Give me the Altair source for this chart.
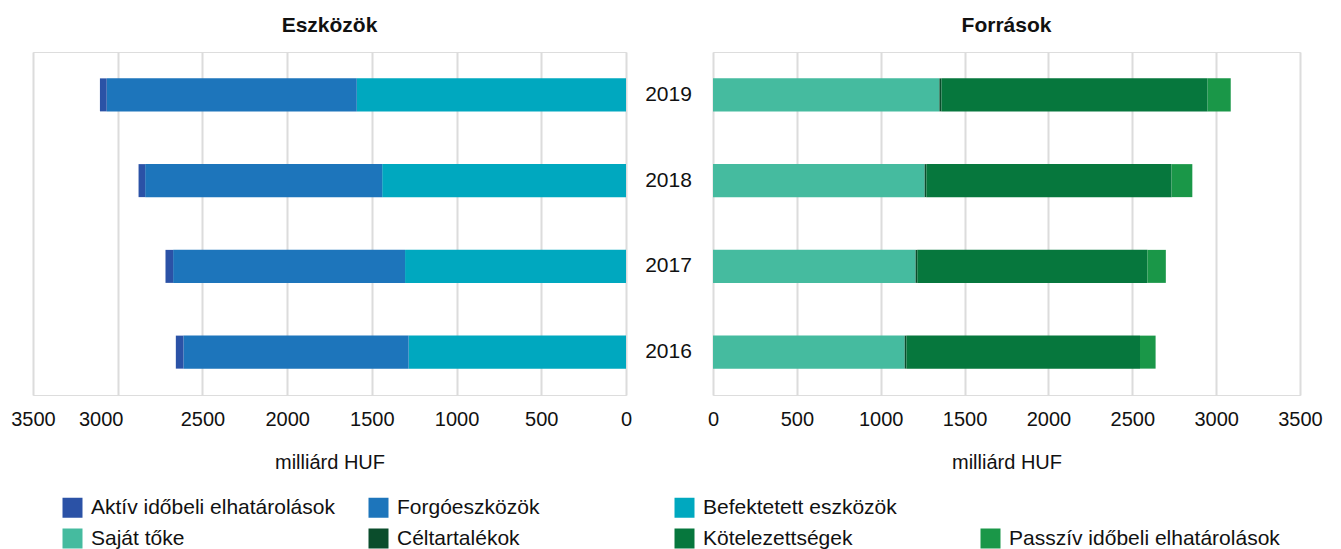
import altair as alt
import pandas as pd

years = ["2019", "2018", "2017", "2016"]

# Eszközök (milliárd HUF)
befektetett = [1589, 1439, 1304, 1283]
forgo = [1476, 1399, 1369, 1329]
aktiv = [40, 39, 45, 45]

# Források (milliárd HUF)
sajat = [1350, 1262, 1208, 1143]
celtartalek = [12, 10, 10, 10]
kotelezettseg = [1587, 1462, 1372, 1393]
passziv = [138, 124, 110, 93]

cat_names = [
    "Aktív időbeli elhatárolások", "Forgóeszközök", "Befektetett eszközök", " ",
    "Saját tőke", "Céltartalékok", "Kötelezettségek", "Passzív időbeli elhatárolások",
]
cat_colors = ["#2b52a6", "#1d75bb", "#00a8bf", "#ffffff",
              "#45bb9f", "#0b4d2c", "#06773d", "#1a9748"]

left_rows = []
for i, y in enumerate(years):
    left_rows.append({"year": y, "cat": "Befektetett eszközök", "value": befektetett[i], "ord": 0})
    left_rows.append({"year": y, "cat": "Forgóeszközök", "value": forgo[i], "ord": 1})
    left_rows.append({"year": y, "cat": "Aktív időbeli elhatárolások", "value": aktiv[i], "ord": 2})
right_rows = []
for i, y in enumerate(years):
    right_rows.append({"year": y, "cat": "Saját tőke", "value": sajat[i], "ord": 0})
    right_rows.append({"year": y, "cat": "Céltartalékok", "value": celtartalek[i], "ord": 1})
    right_rows.append({"year": y, "cat": "Kötelezettségek", "value": kotelezettseg[i], "ord": 2})
    right_rows.append({"year": y, "cat": "Passzív időbeli elhatárolások", "value": passziv[i], "ord": 3})

df_left = pd.DataFrame(left_rows)
df_right = pd.DataFrame(right_rows)

tick_vals = [0, 500, 1000, 1500, 2000, 2500, 3000, 3500]
FONT = "Liberation Sans"

color_scale = alt.Scale(domain=cat_names, range=cat_colors)
legend = alt.Legend(
    title=None, orient="none", legendX=29, legendY=445, columns=4, direction="horizontal",
    symbolType="square", symbolSize=400, symbolStrokeWidth=0,
    labelFontSize=21, labelFont=FONT, labelColor="#111111", labelLimit=400,
    gridAlign="all", columnPadding=6, rowPadding=9, labelOffset=8,
)

def x_axis(label_offset=0):
    return alt.Axis(values=tick_vals, format="d", title="milliárd HUF", grid=True, ticks=False,
                    domain=False, labelFontSize=20, labelFont=FONT, labelColor="#111111",
                    labelPadding=14, titleFontSize=20, titleFont=FONT, labelFlush=False,
                    labelOffset=label_offset,
                    titleFontWeight="normal", titleColor="#111111", titlePadding=23,
                    gridColor="#dcdcdc", gridWidth=2, labelOverlap=False)

y_scale = alt.Scale(paddingInner=0.615, paddingOuter=0.3075)

left = alt.Chart(df_left).mark_bar().encode(
    x=alt.X("value:Q", stack="zero", scale=alt.Scale(domain=[0, 3500], reverse=True, nice=False),
            axis=x_axis(alt.ExprRef("datum.value == 3000 ? -17 : 0"))),
    y=alt.Y("year:N", sort=years, scale=y_scale,
            axis=alt.Axis(orient="right", title=None, ticks=False, tickSize=0, domain=False,
                          labelAlign="center", labelPadding=42, labelFontSize=21,
                          labelFont=FONT, labelColor="#111111")),
    color=alt.Color("cat:N", scale=color_scale, legend=legend),
    order=alt.Order("ord:Q"),
).properties(width=593, height=343,
             title=alt.TitleParams("Eszközök", fontSize=21, font=FONT, fontWeight="bold",
                                   anchor="middle", offset=16, color="#111111"))

right = alt.Chart(df_right).mark_bar().encode(
    x=alt.X("value:Q", stack="zero", scale=alt.Scale(domain=[0, 3500], nice=False), axis=x_axis()),
    y=alt.Y("year:N", sort=years, scale=y_scale, axis=None),
    color=alt.Color("cat:N", scale=color_scale, legend=legend),
    order=alt.Order("ord:Q"),
).properties(width=587, height=343,
             title=alt.TitleParams("Források", fontSize=21, font=FONT, fontWeight="bold",
                                   anchor="middle", offset=16, color="#111111"))

chart = alt.hconcat(left, right, spacing=87, bounds="flush").resolve_scale(
    color="shared", y="independent"
).properties(
    padding={"left": 2, "top": 6, "right": 0, "bottom": 0}
).configure_view(stroke=None).configure(font=FONT)

chart.save("out.html", embed_options={"renderer": "svg", "actions": False})
